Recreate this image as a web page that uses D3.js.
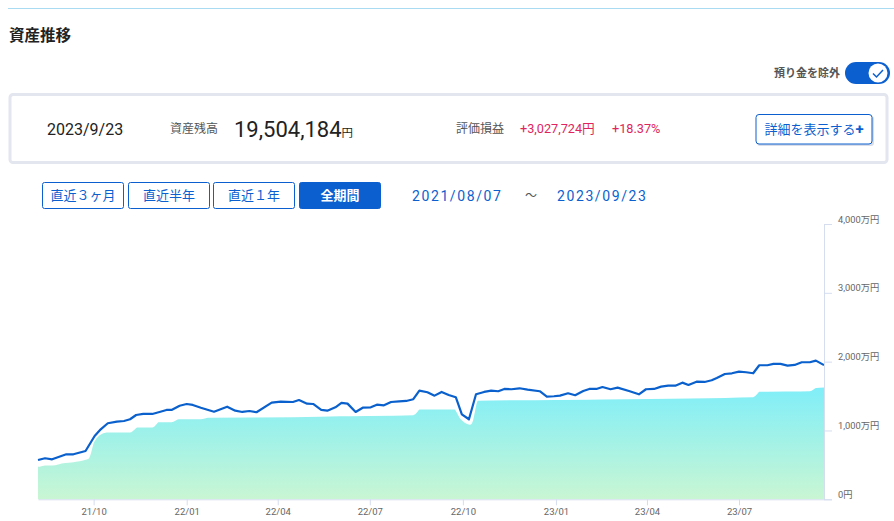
<!DOCTYPE html>
<html><head><meta charset="utf-8">
<script src="https://cdn.jsdelivr.net/npm/d3@7/dist/d3.min.js"></script>
<style>
html,body{margin:0;padding:0;background:#fff;}
svg{display:block;font-family:Roboto,"Noto Sans CJK JP",sans-serif;}
</style></head>
<body>
<svg id="c" width="894" height="521"></svg>
<script>
// ---- data ----
const lineDates = ["2021-08-07","2021-08-14","2021-08-21","2021-09-04","2021-09-11","2021-09-23","2021-10-02","2021-10-08","2021-10-15","2021-10-24","2021-10-31","2021-11-06","2021-11-12","2021-11-19","2021-11-28","2021-12-06","2021-12-12","2021-12-17","2021-12-25","2022-01-01","2022-01-07","2022-01-15","2022-01-28","2022-02-10","2022-02-18","2022-02-25","2022-03-04","2022-03-11","2022-03-26","2022-04-04","2022-04-16","2022-04-22","2022-04-30","2022-05-06","2022-05-14","2022-05-20","2022-05-28","2022-06-03","2022-06-09","2022-06-17","2022-06-24","2022-07-02","2022-07-08","2022-07-15","2022-07-22","2022-07-30","2022-08-06","2022-08-13","2022-08-19","2022-08-27","2022-09-03","2022-09-10","2022-09-17","2022-09-24","2022-09-30","2022-10-07","2022-10-14","2022-10-22","2022-10-29","2022-11-05","2022-11-11","2022-11-18","2022-11-26","2022-12-04","2022-12-16","2022-12-23","2022-12-30","2023-01-05","2023-01-13","2023-01-20","2023-01-28","2023-02-03","2023-02-10","2023-02-16","2023-02-24","2023-03-03","2023-03-15","2023-03-24","2023-03-31","2023-04-08","2023-04-15","2023-04-22","2023-04-29","2023-05-06","2023-05-12","2023-05-20","2023-05-28","2023-06-04","2023-06-09","2023-06-17","2023-06-24","2023-07-01","2023-07-08","2023-07-15","2023-07-21","2023-07-29","2023-08-04","2023-08-11","2023-08-18","2023-08-25","2023-09-01","2023-09-09","2023-09-15","2023-09-23"];
// 評価額 (万円)
const lineValues = [571,596,581,654,654,702,920,1017,1105,1128,1138,1163,1225,1240,1240,1273,1298,1298,1360,1385,1371,1331,1273,1346,1288,1269,1283,1265,1404,1419,1414,1443,1390,1385,1298,1288,1337,1400,1390,1269,1331,1337,1375,1366,1414,1424,1429,1454,1578,1555,1506,1560,1516,1483,1235,1163,1526,1560,1578,1570,1603,1599,1613,1593,1570,1491,1497,1506,1541,1512,1574,1603,1603,1632,1599,1622,1570,1526,1599,1603,1637,1651,1651,1695,1661,1709,1705,1730,1763,1821,1831,1855,1846,1831,1948,1948,1967,1967,1942,1952,1991,1991,2015,1950];
const areaDates = ["2021-08-07","2021-08-14","2021-08-21","2021-09-01","2021-09-11","2021-09-25","2021-09-30","2021-10-06","2021-10-14","2021-11-06","2021-11-13","2021-11-28","2021-12-04","2021-12-17","2021-12-24","2022-01-15","2022-01-22","2022-04-16","2022-06-01","2022-08-13","2022-08-19","2022-09-23","2022-09-30","2022-10-08","2022-10-15","2022-12-30","2023-07-15","2023-07-21","2023-09-09","2023-09-15","2023-09-23"];
// 投資元本 (万円)
const areaValues = [488,513,513,547,561,605,837,949,993,993,1065,1065,1142,1142,1186,1186,1206,1215,1228,1244,1327,1327,1177,1105,1454,1465,1506,1584,1593,1640,1648];
const yTicks = [0,1000,2000,3000,4000];
const yTickLabels = ["0円","1,000万円","2,000万円","3,000万円","4,000万円"];
const xTicks = ["2021-10-01","2022-01-01","2022-04-01","2022-07-01","2022-10-01","2023-01-01","2023-04-01","2023-07-01"];
const periodButtons = ["直近３ヶ月","直近半年","直近１年","全期間"];

const svg = d3.select("#c");
const parse = d3.timeParse("%Y-%m-%d");
const blue = "#0b5fcf";

// top rule
svg.append("line").attr("x1",8).attr("x2",894).attr("y1",8.5).attr("y2",8.5).attr("stroke","#a9dcf2").attr("stroke-width",1);
svg.append("text").attr("x",9).attr("y",41).attr("font-size",15.5).attr("font-weight","bold").attr("fill","#222").text("資産推移");

// toggle
svg.append("text").attr("x",840).attr("y",77).attr("text-anchor","end").attr("font-size",11).attr("font-weight","bold").attr("fill","#555").text("預り金を除外");
svg.append("rect").attr("x",845).attr("y",62).attr("width",45).attr("height",22).attr("rx",11).attr("fill",blue);
svg.append("circle").attr("cx",878).attr("cy",73).attr("r",9.5).attr("fill","#fff");
svg.append("path").attr("d","M873,73.5 L876.5,77 L883,70").attr("fill","none").attr("stroke",blue).attr("stroke-width",1.5);

// summary box
svg.append("rect").attr("x",10).attr("y",94.5).attr("width",877).attr("height",68).attr("rx",3).attr("fill","#fff").attr("stroke","#e4e6ef").attr("stroke-width",3);
svg.append("text").attr("x",47).attr("y",135).attr("font-size",16).attr("fill","#222").text("2023/9/23");
svg.append("text").attr("x",170).attr("y",133).attr("font-size",12).attr("fill","#555").text("資産残高");
const big = svg.append("text").attr("x",234).attr("y",137).attr("fill","#222");
big.append("tspan").attr("font-size",22).text("19,504,184");
big.append("tspan").attr("font-size",11.5).text("円");
svg.append("text").attr("x",456).attr("y",133).attr("font-size",12).attr("fill","#555").text("評価損益");
svg.append("text").attr("x",520).attr("y",133).attr("font-size",12.7).attr("fill","#e0245e").text("+3,027,724円");
svg.append("text").attr("x",612).attr("y",133).attr("font-size",12.7).attr("fill","#e0245e").text("+18.37%");
svg.append("rect").attr("x",757).attr("y",116).attr("width",117).attr("height",30).attr("rx",3).attr("fill","#d8dde8");
svg.append("rect").attr("x",756).attr("y",114.5).attr("width",116).attr("height",29.5).attr("rx",3).attr("fill","#fff").attr("stroke",blue).attr("stroke-width",1);
const btn = svg.append("text").attr("x",814).attr("y",134).attr("text-anchor","middle").attr("font-size",13).attr("fill",blue);
btn.append("tspan").text("詳細を表示する");
btn.append("tspan").attr("font-weight","bold").attr("font-size",15).text("+");

// period buttons
const bx = [42,128,213,299];
periodButtons.forEach((t,i)=>{
  const active = i===3;
  svg.append("rect").attr("x",bx[i]+0.5).attr("y",182.5).attr("width",81).attr("height",26).attr("rx",2)
    .attr("fill",active?blue:"#fff").attr("stroke",blue).attr("stroke-width",1);
  svg.append("text").attr("x",bx[i]+41).attr("y",200).attr("text-anchor","middle").attr("font-size",13)
    .attr("font-weight",active?"bold":"normal").attr("fill",active?"#fff":blue).text(t);
});
svg.append("text").attr("x",412).attr("y",201).attr("font-size",14).attr("letter-spacing",1.6).attr("fill",blue).text("2021/08/07");
svg.append("text").attr("x",525).attr("y",200).attr("font-size",12).attr("fill","#555").text("～");
svg.append("text").attr("x",557).attr("y",201).attr("font-size",14).attr("letter-spacing",1.6).attr("fill",blue).text("2023/09/23");

// ---- chart ----
const x = d3.scaleTime().domain([parse("2021-08-07"),parse("2023-09-23")]).range([38,824]);
const y = d3.scaleLinear().domain([0,4000]).range([499.3,224]);

const defs = svg.append("defs");
const g = defs.append("linearGradient").attr("id","ag").attr("x1",0).attr("y1",0).attr("x2",0).attr("y2",1);
g.append("stop").attr("offset","0%").attr("stop-color","#7feef9");
g.append("stop").attr("offset","100%").attr("stop-color","#c9f6d3");

const areaData = areaDates.map((d,i)=>({d:parse(d),v:areaValues[i]}));
const lineData = lineDates.map((d,i)=>({d:parse(d),v:lineValues[i]}));

svg.append("path").datum(areaData)
  .attr("d",d3.area().x(d=>x(d.d)).y0(y(0)).y1(d=>y(d.v)).curve(d3.curveMonotoneX))
  .attr("fill","url(#ag)");
svg.append("path").datum(areaData)
  .attr("d",d3.line().x(d=>x(d.d)).y(d=>y(d.v)).curve(d3.curveMonotoneX))
  .attr("fill","none").attr("stroke","#fff").attr("stroke-width",3);
svg.append("path").datum(lineData)
  .attr("d",d3.line().x(d=>x(d.d)).y(d=>y(d.v)))
  .attr("fill","none").attr("stroke","#0a60cc").attr("stroke-width",2.2).attr("stroke-linejoin","round");

// axes
const yAxis = svg.append("g").attr("transform","translate(824,0)")
  .call(d3.axisRight(y).tickValues(yTicks).tickSize(8).tickPadding(6).tickFormat((d,i)=>yTickLabels[i]));
yAxis.select(".domain").attr("stroke","#d5ddef");
yAxis.selectAll(".tick line").attr("stroke","#d5ddef");
yAxis.selectAll(".tick text").attr("fill","#666").attr("font-size",9.3).attr("dy","-0.2em").attr("font-family","Roboto,'Noto Sans CJK JP',sans-serif");

const xAxis = svg.append("g").attr("transform","translate(0,499.3)")
  .call(d3.axisBottom(x).tickValues(xTicks.map(parse)).tickSize(6).tickPadding(3).tickFormat(d3.timeFormat("%y/%m")).tickSizeOuter(0));
xAxis.select(".domain").attr("stroke","#d5ddef");
xAxis.selectAll(".tick line").attr("stroke","#d5ddef");
xAxis.selectAll(".tick text").attr("fill","#666").attr("font-size",9.5).attr("font-family","Roboto,'Noto Sans CJK JP',sans-serif");
</script>
</body></html>
